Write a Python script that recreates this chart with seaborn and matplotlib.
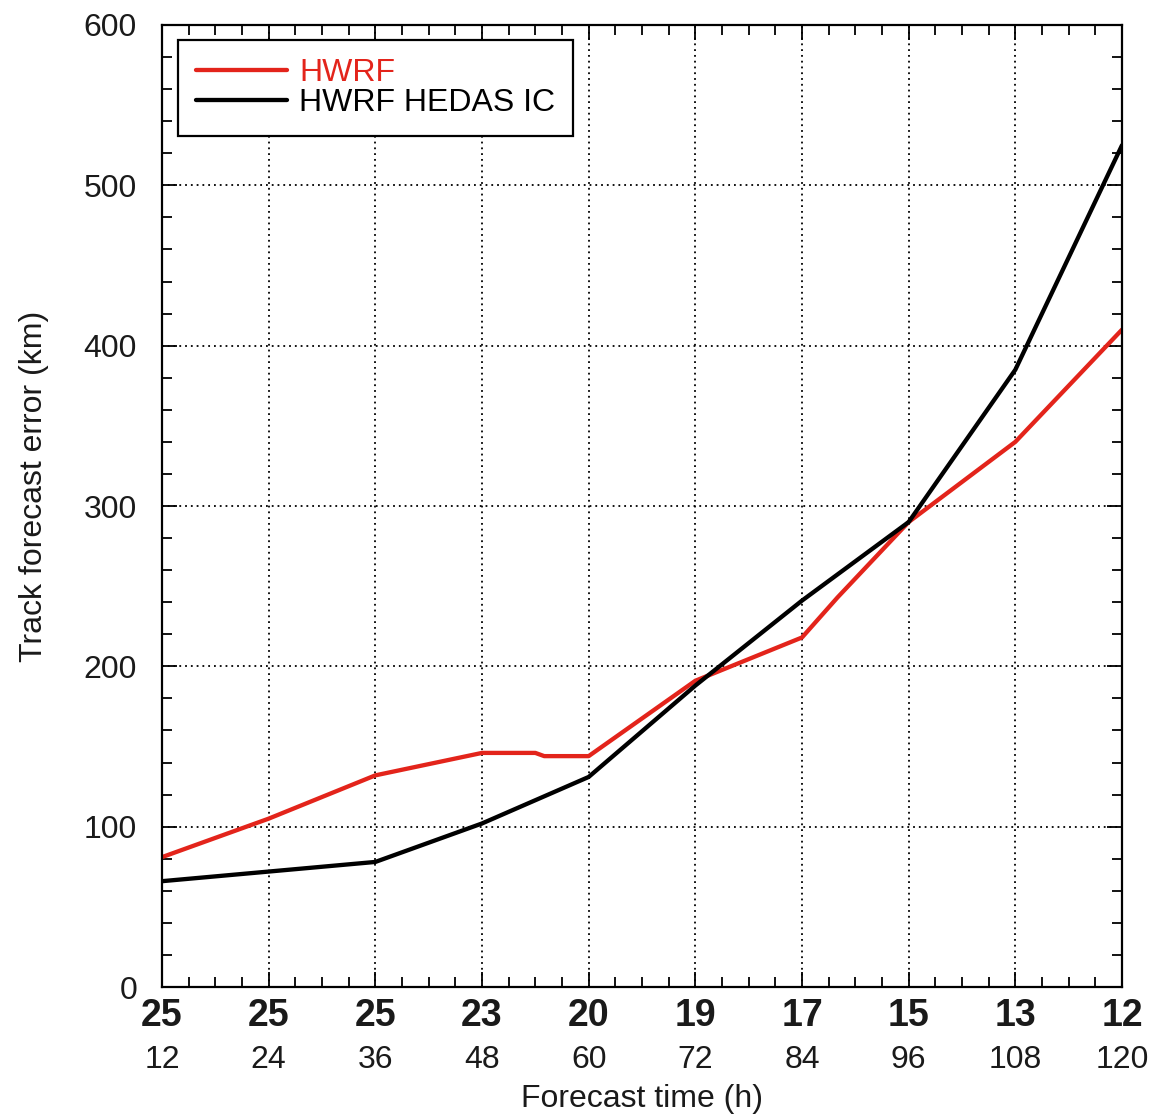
import numpy as np
import pandas as pd
import matplotlib
matplotlib.use('Agg')
import matplotlib.pyplot as plt
import seaborn as sns
from matplotlib.ticker import MultipleLocator

# ---- data ----
hours = [12, 24, 36, 48, 60, 72, 84, 96, 108, 120]
case_counts = ['25', '25', '25', '23', '20', '19', '17', '15', '13', '12']

hwrf_hours = [12, 24, 36, 48, 54, 55, 60, 72, 84, 88, 96, 108, 120]
hwrf_err = [81, 105, 132, 146, 146, 144, 144, 191, 218, 243, 290, 340, 410]

hedas_hours = [12, 24, 36, 48, 60, 72, 84, 96, 108, 120]
hedas_err = [66, 72, 78, 102, 131, 188, 241, 290, 385, 525]

series_names = ['HWRF', 'HWRF HEDAS IC']
series_colors = ['#e3241b', '#000000']

df = pd.concat([
    pd.DataFrame({'hour': hwrf_hours, 'err': hwrf_err, 'series': series_names[0]}),
    pd.DataFrame({'hour': hedas_hours, 'err': hedas_err, 'series': series_names[1]}),
], ignore_index=True)

# ---- style ----
sns.set_style('ticks')
plt.rcParams['font.family'] = ['Liberation Sans', 'DejaVu Sans']
plt.rcParams['text.color'] = '#1a1a1a'
plt.rcParams['axes.labelcolor'] = '#1a1a1a'

fig = plt.figure(figsize=(11.56, 11.19), dpi=100)
ax = fig.add_axes([0.14014, 0.11796, 0.83045, 0.85970])

sns.lineplot(data=df, x='hour', y='err', hue='series', hue_order=series_names,
             palette=dict(zip(series_names, series_colors)), estimator=None,
             sort=True, linewidth=3.1, ax=ax, legend=False)

ax.set_xlim(12, 120)
ax.set_ylim(0, 600)
ax.xaxis.set_major_locator(MultipleLocator(12))
ax.xaxis.set_minor_locator(MultipleLocator(3))
ax.yaxis.set_major_locator(MultipleLocator(100))
ax.yaxis.set_minor_locator(MultipleLocator(20))
ax.set_xticks(hours)
ax.set_xticklabels([str(h) for h in hours])

ax.tick_params(which='both', direction='in', top=True, right=True, color='black',
               labelcolor='#1a1a1a', width=1.3)
ax.tick_params(which='major', length=11)
ax.tick_params(which='minor', length=7)
ax.tick_params(axis='x', which='major', labelsize=23, pad=42)
ax.tick_params(axis='y', which='major', labelsize=23, pad=18)

for s in ax.spines.values():
    s.set_visible(True)
    s.set_linewidth(1.6)
    s.set_color('black')

ax.grid(True, which='major', color='black', linestyle=(0, (1, 2.2)), linewidth=1.3)
ax.set_axisbelow(True)

# case counts (bold row above hour labels)
for h, c in zip(hours, case_counts):
    ax.annotate(c, xy=(h, 0), xycoords=('data', 'axes fraction'),
                xytext=(0, -21), textcoords='offset points',
                ha='center', va='center', fontsize=27, fontweight='bold',
                annotation_clip=False)

ax.set_xlabel('Forecast time (h)', fontsize=23, labelpad=6)
ax.set_ylabel('Track forecast error (km)', fontsize=23)
ax.yaxis.set_label_coords(-0.118, 0.52)

leg = ax.legend(ax.lines[:2], series_names, loc='upper left',
                bbox_to_anchor=(0.0167, 0.984), borderaxespad=0,
                fontsize=23, handlelength=2.85, handletextpad=0.4,
                labelspacing=0.0, borderpad=0.55, frameon=True, fancybox=False)
leg.get_frame().set_edgecolor('black')
leg.get_frame().set_linewidth(1.6)
leg.get_frame().set_alpha(1)
for t, col in zip(leg.get_texts(), series_colors):
    t.set_color(col)

fig.savefig('out.png', dpi=100)
